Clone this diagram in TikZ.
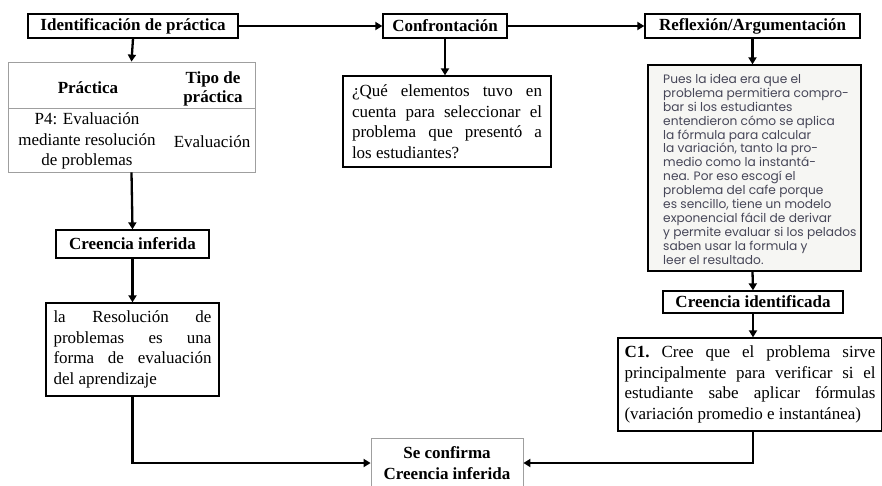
\documentclass[tikz,border=0pt]{standalone}
\usepackage{fontspec}
\setmainfont{Liberation Serif}
\newfontfamily\handfont{Poppins}
\usetikzlibrary{arrows.meta}
\definecolor{pencil}{RGB}{70,70,88}
\definecolor{paper}{RGB}{246,246,243}
\newcommand\nohyph{\hyphenpenalty=10000\relax\tolerance=10000\relax\frenchspacing}
\begin{document}
\begin{tikzpicture}[x=1pt,y=-1pt,
  txt/.style={font=\fontsize{17}{20.5}\selectfont},
  hdr/.style={font=\fontsize{17}{20.5}\selectfont\bfseries},
  box/.style={draw=black, line width=1.3pt, inner sep=0pt, fill=white},
  thinbox/.style={draw=gray!75, line width=0.8pt, inner sep=0pt},
  para/.style={font=\fontsize{17}{20.5}\selectfont, align=justify, inner sep=0pt},
  conn/.style={line width=2.3pt, -{Triangle[length=7pt,width=8pt]}}]
\useasboundingbox (0,0) rectangle (882,485);
\clip (0,0) rectangle (882,485);

% top row
\node[box, hdr, minimum width=210, minimum height=24] (id) at (133,26) {Identificación de práctica};
\node[box, hdr, minimum width=124, minimum height=24] (cf) at (445,26) {Confrontación};
\node[box, hdr, minimum width=215, minimum height=24] (rf) at (752.5,26) {Reflexión/Argumentación};

% table
\node[thinbox, minimum width=247, minimum height=110] (tab) at (131.5,117) {};
\draw[gray!75, line width=0.8pt] (8,108) -- (255,108);
\node[hdr] (th1) at (88,88) {Práctica};
\node[hdr, align=center, font=\fontsize{17}{18.5}\selectfont\bfseries] (th2) at (213,89) {Tipo de\\práctica};
\node[txt, align=center] (tb1) at (87,141) {P4: Evaluación\\mediante resolución\\de problemas};
\node[txt] (tb2) at (212,142) {Evaluación};

% left column
\node[box, hdr, minimum width=153, minimum height=28] (ci) at (132.5,244) {Creencia inferida};
\node[box, minimum width=173, minimum height=93] (res) at (132.5,349.5) {};
\node[para, text width=158] (rest) at (res.center) {\nohyph la Resolución de\linebreak problemas es una\linebreak forma de evaluación\linebreak del aprendizaje};

% middle
\node[box, minimum width=208, minimum height=91] (q) at (447,121.5) {};
\node[para, text width=190] (qt) at (q.center) {\nohyph ¿Qué elementos tuvo en\linebreak cuenta para seleccionar el\linebreak problema que presentó a\linebreak los estudiantes?};

% right column
\node[box, fill=paper, minimum width=213, minimum height=206] (hw) at (754.5,168) {};
\node[font=\handfont\fontsize{12.2}{13.9}\selectfont, text=pencil, align=left, inner sep=0pt, anchor=north west] (hwt) at (663,74)
{Pues la idea era que el\\problema permitiera compro-\\bar si los estudiantes\\entendieron cómo se aplica\\la fórmula para calcular\\la variación, tanto la pro-\\medio como la instantá-\\nea. Por eso escogí el\\problema del cafe porque\\es sencillo, tiene un modelo\\exponencial fácil de derivar\\y permite evaluar si los pelados\\saben usar la formula y\\leer el resultado.};
\node[box, hdr, minimum width=180, minimum height=22] (cid) at (753,302) {Creencia identificada};
\node[box, minimum width=264, minimum height=93] (c1) at (750,384.5) {};
\node[para, text width=251] (c1t) at (c1.center) {\nohyph\textbf{C1.} Cree que el problema sirve\linebreak principalmente para verificar si el\linebreak estudiante sabe aplicar fórmulas\linebreak (variación promedio e instantánea)};

% bottom
\node[thinbox, fill=white, hdr, align=center, minimum width=152, minimum height=50] (scf) at (447,463) {Se confirma\\Creencia inferida};

% connectors
\draw[conn] (id.east) -- (cf.west);
\draw[conn] (cf.east) -- (rf.west);
\draw[conn] (id.south) -- (tab.north);
\draw[conn] (tab.south) -- (ci.north);
\draw[conn] (ci.south) -- (res.north);
\draw[conn] (res.south) |- (scf.west);
\draw[conn] (cf.south) -- (cf.south |- q.north);
\draw[conn] (rf.south) -- (rf.south |- hw.north);
\draw[conn] (hw.south -| rf.south) -- (cid.north);
\draw[conn] (cid.south) -- (cid.south |- c1.north);
\draw[conn] (c1.south -| cid.south) |- (scf.east);
\end{tikzpicture}
\end{document}
